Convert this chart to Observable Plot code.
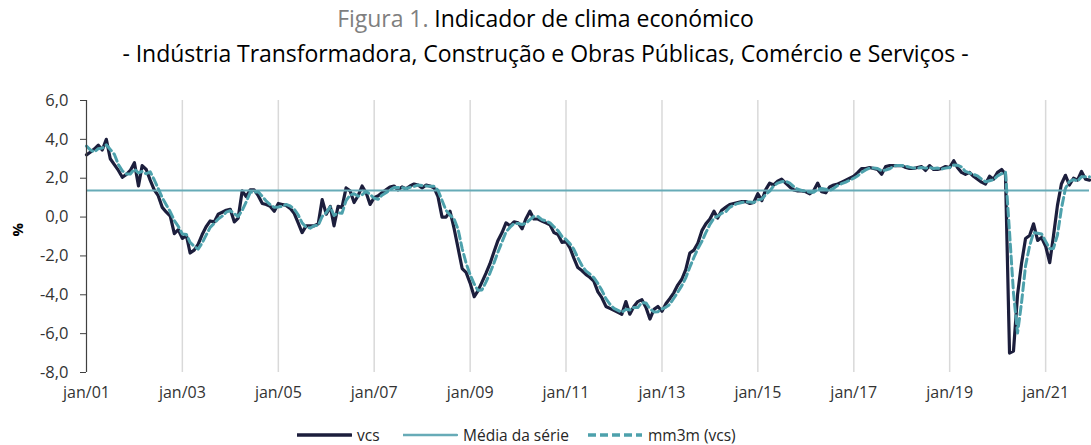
<!DOCTYPE html>
<html>
<head>
<meta charset="utf-8">
<script src="https://cdn.jsdelivr.net/npm/d3@7"></script>
<script src="https://cdn.jsdelivr.net/npm/@observablehq/plot@0.6"></script>
<style>
  html, body { margin: 0; padding: 0; background: #fff; }
  body { width: 1091px; height: 445px; position: relative; overflow: hidden; font-family: "Open Sans", sans-serif; }
  #title { position: absolute; left: 0; top: 1px; width: 1091px; text-align: center; font-size: 23px; line-height: 35px; color: #000; letter-spacing: -0.05px; }
  #title .fig { color: #7f7f7f; }
  #chart { position: absolute; left: 0; top: 85px; }
  #legend { position: absolute; left: 0; top: 423px; width: 1091px; height: 24px; font-size: 15.5px; color: #262626; }
  #legend .item { position: absolute; top: 0; height: 24px; display: flex; align-items: center; }
  #legend svg { margin-right: 5px; }
</style>
</head>
<body>
<div id="title">
  <div><span class="fig">Figura 1.</span> Indicador de clima económico</div>
  <div>- Indústria Transformadora, Construção e Obras Públicas, Comércio e Serviços -</div>
</div>
<div id="chart"></div>
<div id="legend"></div>
<script>
// Monthly series, jan/2001 .. dez/2021
const startYear = 2001;
const endYear = 2021;

const vcs = [
  3.2, 3.35, 3.5, 3.7, 3.45, 4.0, 3.0, 2.7, 2.4, 2.05, 2.2, 2.4,
  2.8, 1.6, 2.65, 2.45, 1.9, 1.4, 1.1, 0.5, 0.25, 0.05, -0.85, -0.65,
  -1.1, -0.95, -1.85, -1.7, -1.4, -0.9, -0.5, -0.2, -0.25, 0.15, 0.25, 0.35,
  0.4, -0.25, -0.05, 1.35, 1.05, 1.4, 1.4, 1.1, 0.7, 0.65, 0.55, 0.3,
  0.7, 0.65, 0.6, 0.45, 0.2, -0.3, -0.8, -0.45, -0.45, -0.45, -0.35, 0.9,
  0.15, 0.55, -0.45, 0.55, 0.5, 1.5, 1.35, 0.75, 1.1, 1.6, 1.25, 0.65,
  1.0, 1.1, 1.25, 1.4, 1.55, 1.6, 1.4, 1.55, 1.45, 1.6, 1.7, 1.65,
  1.5, 1.65, 1.6, 1.5, 1.05, 0.0, 0.0, 0.3, -0.6, -1.6, -2.65, -2.85,
  -3.4, -4.1, -3.8, -3.35, -2.9, -2.4, -1.8, -1.2, -0.8, -0.3, -0.45, -0.25,
  -0.3, -0.6, -0.1, 0.3, -0.1, -0.1, -0.2, -0.3, -0.4, -0.8, -0.9, -1.3,
  -1.25, -1.6, -2.1, -2.6, -2.75, -2.95, -3.1, -3.3, -3.85, -4.15, -4.6, -4.7,
  -4.8, -4.9, -5.0, -4.35, -5.0, -4.6, -4.35, -4.25, -4.65, -5.25, -4.75, -4.6,
  -4.85, -4.45, -4.2, -3.9, -3.5, -3.2, -2.7, -1.85, -1.7, -1.35, -0.7, -0.35,
  -0.1, 0.3, -0.05, 0.35, 0.5, 0.65, 0.7, 0.75, 0.8, 0.8, 0.7, 0.75,
  1.2, 0.85, 1.4, 1.75, 1.65, 1.85, 1.95, 1.75, 1.55, 1.4, 1.35, 1.35,
  1.3, 1.2, 1.35, 1.75, 1.3, 1.25, 1.55, 1.65, 1.7, 1.8, 1.9, 2.0,
  2.1, 2.3, 2.5, 2.5, 2.55, 2.5, 2.45, 2.2, 2.6, 2.65, 2.65, 2.65,
  2.65, 2.55, 2.5, 2.5, 2.55, 2.6, 2.4, 2.65, 2.45, 2.45, 2.5, 2.6,
  2.55, 2.9, 2.55, 2.3, 2.2, 2.3, 2.1, 1.95, 1.8, 1.7, 2.1, 1.95,
  2.3, 2.45, 2.2, -7.0, -6.9, -4.0, -2.4, -1.1, -0.95, -0.35, -1.2, -1.05,
  -1.5, -2.35, -1.0, 0.6, 1.7, 2.15, 1.65, 2.0, 1.9, 2.35, 1.95, 1.9
];

const mm3m = [
  3.65, 3.45, 3.35, 3.52, 3.55, 3.72, 3.48, 3.23, 2.7, 2.38, 2.22, 2.22,
  2.47, 2.27, 2.35, 2.23, 2.33, 1.92, 1.47, 1.0, 0.62, 0.27, -0.18, -0.48,
  -0.87, -0.9, -1.3, -1.5, -1.65, -1.33, -0.93, -0.53, -0.32, -0.1, 0.05, 0.25,
  0.33, 0.17, 0.03, 0.35, 0.78, 1.27, 1.28, 1.3, 1.07, 0.82, 0.63, 0.5,
  0.52, 0.55, 0.65, 0.57, 0.42, 0.12, -0.3, -0.52, -0.57, -0.45, -0.42, 0.03,
  0.23, 0.53, 0.08, 0.22, 0.2, 0.85, 1.12, 1.2, 1.07, 1.15, 1.32, 1.17,
  0.97, 0.92, 1.12, 1.25, 1.4, 1.52, 1.52, 1.52, 1.47, 1.53, 1.58, 1.65,
  1.62, 1.6, 1.58, 1.58, 1.38, 0.85, 0.35, 0.1, -0.1, -0.63, -1.62, -2.37,
  -2.97, -3.45, -3.77, -3.75, -3.35, -2.88, -2.37, -1.8, -1.27, -0.77, -0.52, -0.33,
  -0.33, -0.38, -0.33, -0.13, 0.03, 0.03, -0.13, -0.2, -0.3, -0.5, -0.7, -1.0,
  -1.15, -1.38, -1.65, -2.1, -2.48, -2.77, -2.93, -3.12, -3.42, -3.77, -4.2, -4.48,
  -4.7, -4.8, -4.9, -4.75, -4.78, -4.65, -4.65, -4.4, -4.42, -4.72, -4.88, -4.87,
  -4.73, -4.63, -4.5, -4.18, -3.87, -3.53, -3.13, -2.58, -2.08, -1.63, -1.25, -0.8,
  -0.38, -0.05, 0.05, 0.2, 0.27, 0.5, 0.62, 0.7, 0.75, 0.78, 0.77, 0.75,
  0.88, 0.93, 1.15, 1.33, 1.6, 1.75, 1.82, 1.85, 1.75, 1.57, 1.43, 1.37,
  1.33, 1.28, 1.28, 1.43, 1.47, 1.43, 1.37, 1.48, 1.63, 1.72, 1.8, 1.9,
  2.0, 2.13, 2.3, 2.43, 2.52, 2.52, 2.5, 2.38, 2.42, 2.48, 2.63, 2.65,
  2.65, 2.62, 2.57, 2.52, 2.52, 2.55, 2.52, 2.55, 2.5, 2.52, 2.47, 2.52,
  2.55, 2.68, 2.67, 2.58, 2.35, 2.27, 2.2, 2.12, 1.95, 1.82, 1.87, 1.92,
  2.12, 2.23, 2.32, -0.78, -3.9, -5.97, -4.43, -2.5, -1.48, -0.8, -0.83, -0.87,
  -1.25, -1.63, -1.62, -0.92, 0.43, 1.48, 1.83, 1.93, 1.85, 2.08, 2.07, 2.07
];

const seriesMean = 1.37;

const yTicks = [-8, -6, -4, -2, 0, 2, 4, 6];
const xTickYears = [2001, 2003, 2005, 2007, 2009, 2011, 2013, 2015, 2017, 2019, 2021];
const xTickLabels = ["jan/01", "jan/03", "jan/05", "jan/07", "jan/09", "jan/11", "jan/13", "jan/15", "jan/17", "jan/19", "jan/21"];

const legendNames = ["vcs", "Média da série", "mm3m (vcs)"];
const colVcs = "#1c1e3c";
const colMean = "#67abb7";
const colMm = "#4da1ac";

const months = d3.utcMonth.range(new Date(Date.UTC(startYear, 0, 1)), new Date(Date.UTC(endYear + 1, 0, 1)));
const data = months.map((d, i) => ({date: d, vcs: vcs[i], mm3m: mm3m[i]}));
const tickDates = xTickYears.map(y => new Date(Date.UTC(y, 0, 1)));
const labelOf = new Map(tickDates.map((d, i) => [+d, xTickLabels[i]]));

const chart = Plot.plot({
  width: 1091,
  height: 330,
  marginLeft: 86,
  marginRight: 2,
  marginTop: 15,
  marginBottom: 43,
  style: {fontFamily: "Open Sans", fontSize: "16px", color: "#333333", background: "white"},
  x: {type: "utc", domain: [months[0], months[months.length - 1]]},
  y: {domain: [-8, 6]},
  marks: [
    Plot.ruleX(tickDates.slice(1), {stroke: "#d9d9d9", strokeWidth: 1.5}),
    Plot.line(data, {x: "date", y: "vcs", stroke: colVcs, strokeWidth: 3.2, strokeLinejoin: "round"}),
    Plot.ruleY([seriesMean], {stroke: colMean, strokeWidth: 2}),
    Plot.line(data, {x: "date", y: "mm3m", stroke: colMm, strokeWidth: 3, strokeDasharray: "8,4"}),
    Plot.ruleX([months[0]], {stroke: "#404040", strokeWidth: 1.2}),
    Plot.axisY({ticks: yTicks, tickFormat: d => d.toFixed(1).replace(".", ","), tickSize: 6, tickPadding: 12, label: null, stroke: "#404040", fontSize: 16.5}),
    Plot.axisX({ticks: tickDates, tickFormat: d => labelOf.get(+d), tickSize: 0, tickPadding: 14, label: null, fontSize: 16}),
    Plot.text(["%"], {frameAnchor: "left", dx: -68, rotate: -90, fontWeight: "bold", fill: "#000", fontSize: 15})
  ]
});
document.getElementById("chart").appendChild(chart);

// Legend
const legend = d3.select("#legend");
const items = [
  {name: legendNames[0], left: 297, color: colVcs, dash: null, w: 3.5},
  {name: legendNames[1], left: 403, color: colMean, dash: null, w: 2.5},
  {name: legendNames[2], left: 588, color: colMm, dash: "8,4", w: 3.5}
];
for (const it of items) {
  const div = legend.append("div").attr("class", "item").style("left", it.left + "px");
  const svg = div.append("svg").attr("width", 55).attr("height", 10);
  svg.append("line").attr("x1", 0).attr("x2", 54).attr("y1", 5).attr("y2", 5)
    .attr("stroke", it.color).attr("stroke-width", it.w)
    .attr("stroke-dasharray", it.dash).attr("stroke-linecap", it.dash ? "butt" : "round");
  div.append("span").text(it.name);
}
</script>
</body>
</html>
